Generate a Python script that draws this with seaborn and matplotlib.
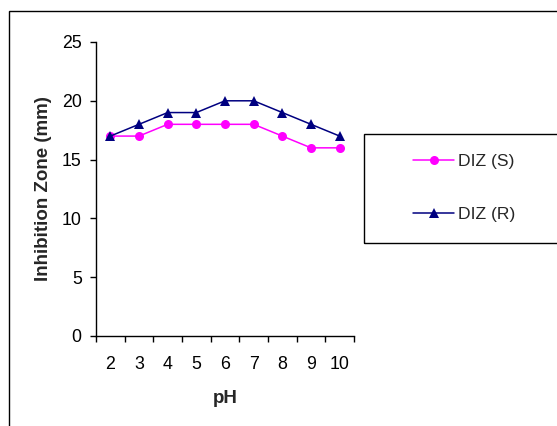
import pandas as pd
import seaborn as sns
import matplotlib.pyplot as plt
from matplotlib.patches import Rectangle


ph_values = ['2', '3', '4', '5', '6', '7', '8', '9', '10']
diz_s = [17, 17, 18, 18, 18, 18, 17, 16, 16]
diz_r = [17, 18, 19, 19, 20, 20, 19, 18, 17]
y_ticks = [0, 5, 10, 15, 20, 25]


def main():
    sns.set_theme(style="ticks")
    plt.rcParams['font.family'] = ['Liberation Sans', 'DejaVu Sans']
    plt.rcParams['axes.linewidth'] = 1.0

    df = pd.DataFrame({'pH': ph_values, 'DIZ (S)': diz_s, 'DIZ (R)': diz_r})

    fig = plt.figure(figsize=(5.57, 4.26), dpi=100)
    ax = fig.add_axes([96 / 557, 1 - 336 / 426, (354 - 96) / 557, (336 - 42) / 426])

    sns.lineplot(data=df, x='pH', y='DIZ (S)', ax=ax, color='#FF00FF',
                 marker='o', markersize=6.5, markeredgewidth=0, linewidth=1.1,
                 label='DIZ (S)', legend=False, sort=False)
    sns.lineplot(data=df, x='pH', y='DIZ (R)', ax=ax, color='#000080',
                 marker='^', markersize=7.5, markeredgewidth=0, linewidth=1.1,
                 label='DIZ (R)', legend=False, sort=False)

    n = len(ph_values)
    ax.set_xlim(-0.5, n - 0.5)
    ax.set_ylim(0, 25)
    ax.set_xticks(range(n))
    ax.set_xticklabels(ph_values)
    ax.set_xticks([i - 0.5 for i in range(n + 1)], minor=True)
    ax.tick_params(axis='x', which='major', length=0, pad=14.5, labelsize=12.8, colors='black')
    ax.tick_params(axis='x', which='minor', length=4.3, width=1, direction='out', color='black')
    ax.set_yticks(y_ticks)
    ax.tick_params(axis='y', length=4.3, width=1, direction='out', pad=6, labelsize=12.8, colors='black')

    sns.despine(ax=ax)
    for side in ['left', 'bottom']:
        ax.spines[side].set_color('black')

    ax.set_xlabel('pH', fontsize=13.5, fontweight='bold', labelpad=12)
    ax.set_ylabel('Inhibition Zone (mm)', fontsize=13.5, fontweight='bold', labelpad=7)

    # legend box, cut off by the right edge like the original
    fig.patches.append(Rectangle((364 / 557, 1 - 243 / 426), 0.5, (243 - 134) / 426,
                                 transform=fig.transFigure, fill=False,
                                 edgecolor='black', linewidth=1.0))
    # outer chart border
    fig.patches.append(Rectangle((9 / 557, -0.2), 1.2, 1.2 - 11 / 426,
                                 transform=fig.transFigure, fill=False,
                                 edgecolor='black', linewidth=1.0))

    handles, labels = ax.get_legend_handles_labels()
    fig.legend(handles, labels, loc='center left',
               bbox_to_anchor=(413 / 557, 1 - 188 / 426),
               frameon=False, fontsize=12.6, borderpad=0, borderaxespad=0,
               handlelength=2.35, handletextpad=0.25, labelspacing=2.2)

    plt.savefig('out.png', dpi=100)


if __name__ == '__main__':
    main()
